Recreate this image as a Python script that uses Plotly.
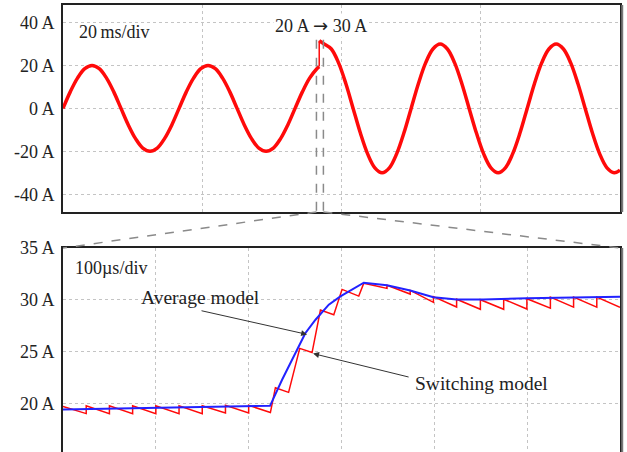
import plotly.graph_objects as go

# ---------------- data ----------------
# Top panel: phase current (ms, A)
pre_t = [0, 1.04, 2.08, 3.13, 4.17, 5.21, 6.25, 7.29, 8.33, 9.38, 10.42, 11.46,
         12.5, 13.54, 14.58, 15.63, 16.67, 17.71, 18.75, 19.79, 20.83, 21.88, 22.92, 23.96,
         25, 26.04, 27.08, 28.13, 29.17, 30.21, 31.25, 32.29, 33.33, 34.38, 35.42, 36.46, 36.8]
pre_i = [0, 7.7, 14.1, 18.5, 20, 18.5, 14.1, 7.7, 0, -7.7, -14.1, -18.5,
         -20, -18.5, -14.1, -7.7, 0, 7.7, 14.1, 18.5, 20, 18.5, 14.1, 7.7,
         0, -7.7, -14.1, -18.5, -20, -18.5, -14.1, -7.7, 0, 7.7, 14.1, 18.5, 19.5]
step_t = [36.8, 36.8]
step_i = [19.5, 31.5]
post_t = [36.8, 37.5, 38.54, 39.58, 40.63, 41.67, 42.71, 43.75, 44.79, 45.83, 46.88, 47.92,
          48.96, 50, 51.04, 52.08, 53.13, 54.17, 55.21, 56.25, 57.29, 58.33, 59.38, 60.42,
          61.46, 62.5, 63.54, 64.58, 65.63, 66.67, 67.71, 68.75, 69.79, 70.83, 71.88, 72.92,
          73.96, 75, 76.04, 77.08, 78.13, 79.17, 80]
post_i = [31.5, 30, 27.7, 21.2, 11.5, 0, -11.5, -21.2, -27.7, -30, -27.7, -21.2,
          -11.5, 0, 11.5, 21.2, 27.7, 30, 27.7, 21.2, 11.5, 0, -11.5, -21.2,
          -27.7, -30, -27.7, -21.2, -11.5, 0, 11.5, 21.2, 27.7, 30, 27.7, 21.2,
          11.5, 0, -11.5, -21.2, -27.7, -30, -28.8]
zoom_window = [36.4, 37.4]  # ms

top_tickvals = [-40, -20, 0, 20, 40]
top_ticktext = ["-40 A", "-20 A", "0 A", "20 A", "40 A"]
top_xgrid = [20, 40, 60]

# Bottom panel: zoom of the step (us, A)
sw_t = [0, 25, 25, 50, 50, 75, 75, 100, 100, 125, 125, 150, 150, 175, 175, 200, 200,
        223.4, 228.8, 243, 255, 268.3, 277.3, 291.7, 300.6, 318.6, 324,
        349, 349, 374, 374, 399, 399, 424, 424, 449.6, 449.6, 474.7, 474.7,
        499.7, 499.7, 525, 525, 550, 550, 575, 575, 600]
sw_i = [19.7, 19.0, 19.75, 19.0, 19.75, 19.0, 19.75, 19.0, 19.75, 19.0, 19.75, 19.0, 19.75,
        19.05, 19.8, 19.05, 19.8,
        19.1, 21.5, 21.05, 25.3, 24.9, 29.0, 28.55, 31.0, 30.35, 31.6,
        31.1, 31.4, 30.55, 30.9, 29.75, 30.3, 29.3, 30.05, 29.08, 30.0, 29.08, 30.05,
        29.1, 30.1, 29.18, 30.25, 29.28, 30.25, 29.28, 30.25, 29.27]
avg_t = [0, 223, 236, 250.3, 261, 272, 286.3, 298.8, 311.4, 324, 349, 374, 399, 424,
         453, 500, 600]
avg_i = [19.4, 19.75, 22.27, 24.84, 26.77, 28.07, 29.52, 30.32, 30.97, 31.65, 31.4,
         30.9, 30.25, 30.03, 30.03, 30.15, 30.3]

bot_tickvals = [20, 25, 30, 35]
bot_ticktext = ["20 A", "25 A", "30 A", "35 A"]
bot_xgrid = [100, 200, 300, 400, 500]

TOP_RANGE = [-48.3, 48.2]
BOT_RANGE = [15.29, 35]
TOP_DOM = [0.5369, 1.0]
BOT_DOM = [0.0, 0.4564]

FONT = "Liberation Serif, Times New Roman, serif"
RED = "#ff0a0a"
BLUE = "#2222ff"
FRAME = "#222222"
GRID = "#c4c4c4"

fig = go.Figure()

fig.add_trace(go.Scatter(x=pre_t, y=pre_i, mode="lines", line=dict(color=RED, width=3.5, shape="spline"),
                         xaxis="x", yaxis="y", showlegend=False, hoverinfo="skip"))
fig.add_trace(go.Scatter(x=step_t, y=step_i, mode="lines", line=dict(color=RED, width=1.5),
                         xaxis="x", yaxis="y", showlegend=False, hoverinfo="skip"))
fig.add_trace(go.Scatter(x=post_t, y=post_i, mode="lines", line=dict(color=RED, width=3.5, shape="spline"),
                         xaxis="x", yaxis="y", showlegend=False, hoverinfo="skip"))

fig.add_trace(go.Scatter(x=sw_t, y=sw_i, mode="lines", line=dict(color=RED, width=1.5),
                         xaxis="x2", yaxis="y2", showlegend=False, hoverinfo="skip"))
fig.add_trace(go.Scatter(x=avg_t, y=avg_i, mode="lines", line=dict(color=BLUE, width=2),
                         xaxis="x2", yaxis="y2", showlegend=False, hoverinfo="skip"))

axis_common = dict(showgrid=True, gridcolor=GRID, griddash="dot", gridwidth=1, zeroline=False,
                   automargin=False)

fig.update_layout(
    width=627, height=452,
    margin=dict(l=63, r=7, t=5, b=0),
    plot_bgcolor="white", paper_bgcolor="white",
    font=dict(family=FONT, size=18, color="#222"),
    xaxis=dict(domain=[0, 1], anchor="y", range=[0, 80], tickvals=top_xgrid, showticklabels=False,
               showline=True, linecolor=FRAME, linewidth=2, mirror=True, **axis_common),
    yaxis=dict(domain=TOP_DOM, anchor="x", range=TOP_RANGE, tickvals=top_tickvals, ticktext=top_ticktext,
               ticks="outside", ticklen=3, tickcolor="rgba(0,0,0,0)",
               showline=True, linecolor=FRAME, linewidth=2, mirror=True, **axis_common),
    xaxis2=dict(domain=[0, 1], anchor="y2", range=[0, 600], tickvals=bot_xgrid, showticklabels=False,
                side="top", showline=True, linecolor=FRAME, linewidth=2, mirror=False, **axis_common),
    yaxis2=dict(domain=BOT_DOM, anchor="x2", range=BOT_RANGE, tickvals=bot_tickvals, ticktext=bot_ticktext,
                ticks="outside", ticklen=3, tickcolor="rgba(0,0,0,0)",
                showline=True, linecolor=FRAME, linewidth=2, mirror=True, **axis_common),
)

dash_line = dict(color="#8a8a8a", width=1.5, dash="dash")
shapes = []
for xv in zoom_window:
    shapes.append(dict(type="line", xref="x", yref="y", x0=xv, x1=xv, y0=32, y1=TOP_RANGE[0], line=dash_line))
shapes.append(dict(type="line", xref="x", yref="paper", x0=zoom_window[0], x1=0,
                   y0=TOP_DOM[0], y1=BOT_DOM[1], line=dash_line))
shapes.append(dict(type="line", xref="x", yref="paper", x0=zoom_window[1], x1=80,
                   y0=TOP_DOM[0], y1=BOT_DOM[1], line=dash_line))
# right-edge shadow of the frames
shapes.append(dict(type="line", xref="paper", yref="paper", x0=1.004, x1=1.004,
                   y0=TOP_DOM[0], y1=TOP_DOM[1], line=dict(color="#777", width=2)))
shapes.append(dict(type="line", xref="paper", yref="paper", x0=1.004, x1=1.004,
                   y0=BOT_DOM[0], y1=BOT_DOM[1], line=dict(color="#777", width=2)))
fig.update_layout(shapes=shapes)

ann = [
    dict(text="20\u2009ms/div", xref="x domain", yref="y domain", x=0.025, y=0.87,
         xanchor="left", yanchor="middle", showarrow=False),
    dict(text="20\u2009A <span style='font-family:DejaVu Sans'>\u2192</span> 30\u2009A", xref="x", yref="y",
         x=37, y=38.6, xanchor="center", yanchor="middle", showarrow=False, bgcolor="white"),
    dict(text="100µs/div", xref="x2 domain", yref="y2 domain", x=0.018, y=0.902,
         xanchor="left", yanchor="middle", showarrow=False),
    dict(text="Average model", xref="x2", yref="y2", x=147.6, y=30.2, font=dict(size=19.5),
         xanchor="center", yanchor="middle", showarrow=False),
    dict(text="", xref="x2", yref="y2", x=263, y=26.65, axref="x2", ayref="y2", ax=147.6, ay=28.97,
         showarrow=True, arrowhead=2, arrowsize=1.2, arrowwidth=1, arrowcolor="#333"),
    dict(text="Switching model", xref="x2", yref="y2", x=450.4, y=21.9, font=dict(size=19.5),
         xanchor="center", yanchor="middle", showarrow=False),
    dict(text="", xref="x2", yref="y2", x=269.4, y=24.8, axref="x2", ayref="y2", ax=373.9, ay=22.5,
         showarrow=True, arrowhead=2, arrowsize=1.2, arrowwidth=1, arrowcolor="#333"),
]
fig.update_layout(annotations=ann)

fig.write_html("out.html", config={"displayModeBar": False},
               post_script="document.body.style.margin='0';")
